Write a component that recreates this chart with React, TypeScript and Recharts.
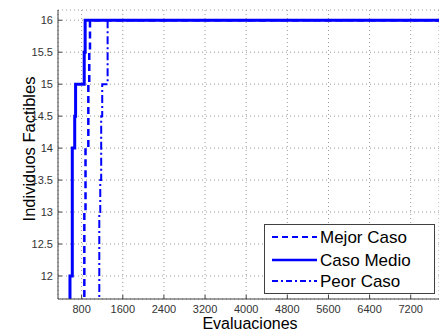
import { LineChart, Line, XAxis, YAxis, CartesianGrid, Legend } from 'recharts';

const evalTicks = [800, 1600, 2400, 3200, 4000, 4800, 5600, 6400, 7200];
const indivTicks = [12, 12.5, 13, 13.5, 14, 14.5, 15, 15.5, 16];

// evaluacion donde cambia el valor, y el nuevo valor
const mejorEval = [852, 852, 875, 930, 948, 962, 7800];
const mejorInd = [11.5, 13, 14, 15, 15.5, 16, 16];
const medioEval = [573, 573, 618, 665, 682, 850, 868, 7800];
const medioInd = [11.5, 12, 14, 14.5, 15, 15.5, 16, 16];
const peorEval = [1143, 1143, 1162, 1180, 1200, 1305, 7800];
const peorInd = [11.5, 13, 13.5, 14.5, 15, 16, 16];

const toPts = (es: number[], vs: number[]) => es.map((e, i) => ({ e, v: vs[i] }));

const font = '"Liberation Sans", Arial, sans-serif';
const blue = '#0000ff';
const axisColor = '#404040';

const series = [
  { name: 'Mejor Caso', data: toPts(mejorEval, mejorInd), width: 2.5, dash: '7 4', legendDash: '6 4' },
  { name: 'Caso Medio', data: toPts(medioEval, medioInd), width: 3, dash: undefined, legendDash: undefined },
  { name: 'Peor Caso', data: toPts(peorEval, peorInd), width: 2, dash: '8 3 2 3', legendDash: '6 3 2 3' },
];

const XTick = ({ x, y, payload }: any) => (
  <g>
    <line x1={x} y1={y} x2={x} y2={y - 4} stroke={axisColor} />
    <text x={x} y={y + 14} textAnchor="middle" fontSize={11} fill="#333" fontFamily={font}>
      {payload.value}
    </text>
  </g>
);

const TopTick = ({ x, y }: any) => (
  <line x1={x} y1={y} x2={x} y2={y + 4} stroke={axisColor} />
);

const YTick = ({ x, y, payload }: any) => (
  <g>
    <line x1={x} y1={y} x2={x + 4} y2={y} stroke={axisColor} />
    <text x={x - 5} y={y + 4} textAnchor="end" fontSize={11} fill="#333" fontFamily={font}>
      {payload.value}
    </text>
  </g>
);

const LegendBox = () => (
  <svg width={171} height={70} style={{ display: 'block' }}>
    <rect x={0.5} y={0.5} width={170} height={69} fill="#fff" stroke={axisColor} />
    {series.map((s, i) => {
      const cy = [13, 36, 57][i];
      return (
        <g key={s.name}>
          <line x1={8} y1={cy} x2={53} y2={cy} stroke={blue} strokeWidth={s.dash ? 2 : 2.5} strokeDasharray={s.legendDash} />
          <text x={56} y={cy + 6} fontSize={17} fill="#000" fontFamily={font}>
            {s.name}
          </text>
        </g>
      );
    })}
  </svg>
);

export default function App() {
  return (
    <div style={{ position: 'absolute', left: 0, top: 0, width: 439, height: 332, background: '#fff', overflow: 'hidden' }}>
      <LineChart width={439} height={332} margin={{ top: 10, right: 0, bottom: 0, left: 0 }}>
        <CartesianGrid stroke="#999" strokeDasharray="1 3" />
        <XAxis
          dataKey="e"
          type="number"
          domain={[340, 7750]}
          allowDataOverflow
          ticks={evalTicks}
          height={33}
          tickSize={0}
          tickMargin={0}
          tickLine={false}
          tick={<XTick />}
          stroke={axisColor}
          label={() => (
            <text x={250} y={329} textAnchor="middle" fontSize={16} fill="#000" fontFamily={font}>
              Evaluaciones
            </text>
          )}
        />
        <XAxis
          xAxisId="top"
          orientation="top"
          dataKey="e"
          type="number"
          domain={[340, 7750]}
          ticks={evalTicks}
          height={0}
          tickSize={0}
          tickMargin={0}
          tickLine={false}
          tick={<TopTick />}
          stroke={axisColor}
        />
        <YAxis
          type="number"
          domain={[11.64, 16.16]}
          allowDataOverflow
          ticks={indivTicks}
          width={58}
          tickSize={0}
          tickMargin={0}
          tickLine={false}
          tick={<YTick />}
          stroke={axisColor}
          label={() => (
            <text x={35} y={149} transform="rotate(-90 35 149)" textAnchor="middle" fontSize={16.5} fill="#000" fontFamily={font}>
              Individuos Factibles
            </text>
          )}
        />
        <Legend
          layout="vertical"
          align="center"
          verticalAlign="middle"
          content={<LegendBox />}
          wrapperStyle={{ left: 264, top: 224, width: 171, height: 70 }}
        />
        {series.map((s) => (
          <Line
            key={s.name}
            name={s.name}
            data={s.data}
            dataKey="v"
            type="stepAfter"
            stroke={blue}
            strokeWidth={s.width}
            strokeDasharray={s.dash}
            dot={false}
            activeDot={false}
            isAnimationActive={false}
          />
        ))}
      </LineChart>
    </div>
  );
}
